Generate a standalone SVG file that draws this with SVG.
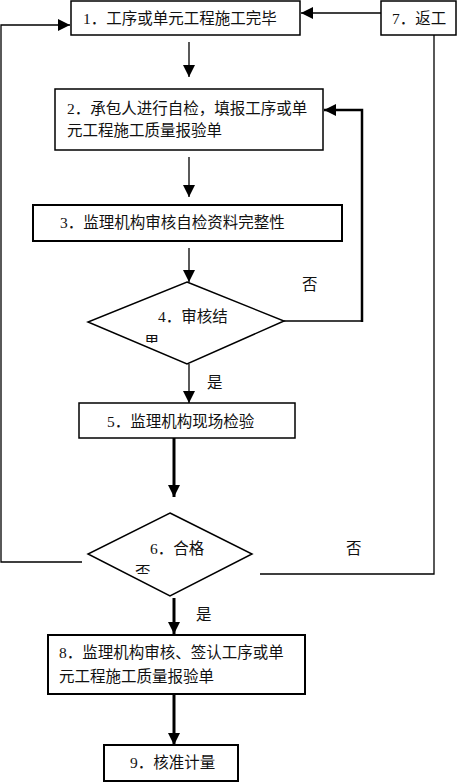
<svg xmlns="http://www.w3.org/2000/svg" width="459" height="782" viewBox="0 0 459 782">
<style>
text{font-family:"Liberation Serif","Noto Sans CJK SC",serif;font-size:15.5px;fill:#111}
.box{fill:#fff;stroke:#000;stroke-width:1.5}
.thin{fill:none;stroke:#000;stroke-width:1.3}
.thick{fill:none;stroke:#000;stroke-width:3}
</style>
<defs>
<marker id="ahb" markerWidth="12" markerHeight="12" refX="12" refY="6" orient="auto" markerUnits="userSpaceOnUse"><path d="M0,0 L12,6 L0,12 Z" fill="#000"/></marker>
<clipPath id="c4"><rect x="0" y="0" width="459" height="343"/></clipPath>
<clipPath id="c6"><rect x="0" y="0" width="459" height="574"/></clipPath>
</defs>
<rect width="459" height="782" fill="#fff"/>
<g id="connectors">
<path class="thin" d="M381,13 H301" marker-end="url(#ahb)"/>
<path class="thin" d="M82,562 H1 V25 H70" marker-end="url(#ahb)"/>
<path class="thin" d="M189,42 V77" marker-end="url(#ahb)"/>
<path class="thin" d="M189,157 V197" marker-end="url(#ahb)"/>
<path class="thin" d="M189,248 V282" marker-end="url(#ahb)"/>
<path class="thin" d="M284,321 H363"/>
<path fill="none" stroke="#000" stroke-width="2.5" d="M362,322 V110 H324" marker-end="url(#ahb)"/>
<path class="thin" d="M434,35 V574 H260"/>
<path class="thin" d="M189,364 V403" marker-end="url(#ahb)"/>
<path class="thick" d="M174,438 V497" marker-end="url(#ahb)"/>
<path class="thick" d="M174,598 V634" marker-end="url(#ahb)"/>
<path class="thick" d="M174,694 V745" marker-end="url(#ahb)"/>
<text x="302" y="290">否</text>
<text x="207" y="388">是</text>
<text x="346" y="554">否</text>
<text x="196" y="620">是</text>
</g>
<g id="n1"><rect class="box" x="71" y="1" width="229" height="34"/><text x="83" y="24">1．工序或单元工程施工完毕</text></g>
<g id="n7"><rect class="box" x="381" y="1" width="75" height="34"/><text x="392" y="24">7．返工</text></g>
<g id="n2"><rect class="box" x="55" y="89" width="268" height="61"/><text x="67" y="114">2．承包人进行自检，填报工序或单</text><text x="67" y="136">元工程施工质量报验单</text></g>
<g id="n3"><rect class="box" x="33" y="205" width="309" height="36" style="stroke-width:2"/><text x="60" y="228">3．监理机构审核自检资料完整性</text></g>
<g id="n4"><path class="box" d="M187,282 L284,321 L187,364 L88,322 Z"/><text x="158" y="322">4．审核结</text><text x="144" y="348" clip-path="url(#c4)">果</text></g>
<g id="n5"><rect class="box" x="79" y="403" width="216" height="35"/><text x="107" y="427">5．监理机构现场检验</text></g>
<g id="n6"><path class="box" d="M170,513 L252,554 L170,596 L88,554 Z"/><text x="150" y="554">6．合格</text><text x="135" y="578" clip-path="url(#c6)">否</text></g>
<g id="n8"><rect class="box" x="48" y="635" width="257" height="59" style="stroke-width:2"/><text x="59" y="658">8．监理机构审核、签认工序或单</text><text x="59" y="682">元工程施工质量报验单</text></g>
<g id="n9"><rect class="box" x="104" y="745" width="134" height="36" style="stroke-width:2"/><text x="130" y="768">9．核准计量</text></g>
</svg>
